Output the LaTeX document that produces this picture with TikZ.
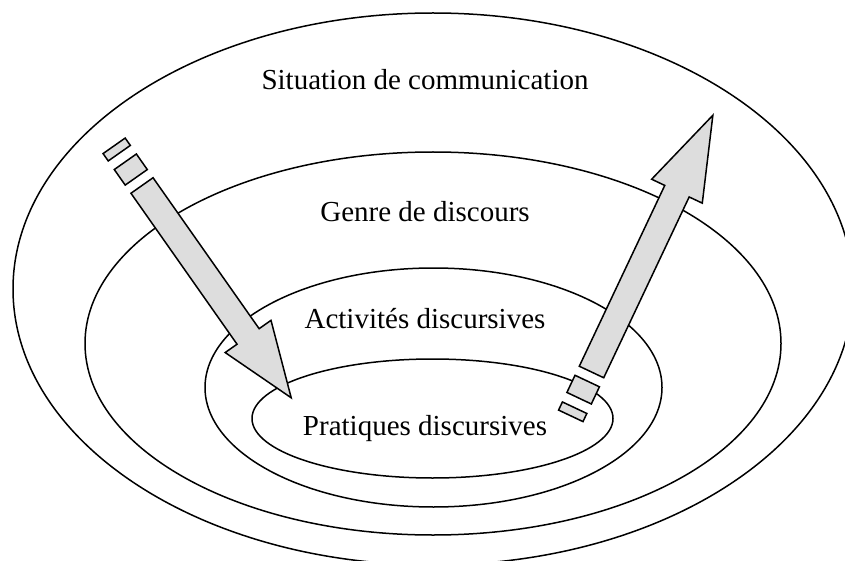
\documentclass[tikz,border=0pt]{standalone}
\usepackage{fontspec}
\setmainfont{Liberation Serif}
\definecolor{arrowgrey}{RGB}{221,221,221}
\newcommand{\stripedarrow}[5]{%
  \begin{scope}[shift={(#1,#2)}, rotate=#3]
    \draw[blockpart] (-48.5,-13.5) rectangle (-39.5,13.5);
    \draw[blockpart] (-29,-13.5) rectangle (-10,13.5);
    \draw[blockpart] (0,-13.5) -- ({#4-#5},-13.5) -- ({#4-#5},-28) -- (#4,0)
      -- ({#4-#5},28) -- ({#4-#5},13.5) -- (0,13.5) -- cycle;
  \end{scope}}
\begin{document}
\begin{tikzpicture}[x=1pt, y=-1pt, line width=1.5pt,
  ring/.style={draw=black},
  ringtext/.style={font=\fontsize{29}{34}\selectfont, inner sep=0pt, anchor=base},
  blockpart/.style={draw=black, fill=arrowgrey, line join=miter}]
\path[use as bounding box, clip] (0,0) rectangle (845,561);
\fill[white] (0,0) rectangle (845,561);
% rings
\draw[ring] (433,289) ellipse [x radius=420, y radius=276];
\draw[ring] (433,343.5) ellipse [x radius=348, y radius=191.5];
\draw[ring] (433.5,387.5) ellipse [x radius=228.5, y radius=119.5];
\draw[ring] (432.5,418.5) ellipse [x radius=180.5, y radius=59.5];
% labels
\node[ringtext] (sit) at (425,90) {Situation de communication};
\node[ringtext] (gen) at (425,222) {Genre de discours};
\node[ringtext] (act) at (425,328) {Activités discursives};
\node[ringtext] (pra) at (425,435) {Pratiques discursives};
% arrows
\stripedarrow{142}{185.5}{-54.9}{259.5}{75}
\stripedarrow{591.5}{372}{64.7}{284}{84}
\end{tikzpicture}
\end{document}
